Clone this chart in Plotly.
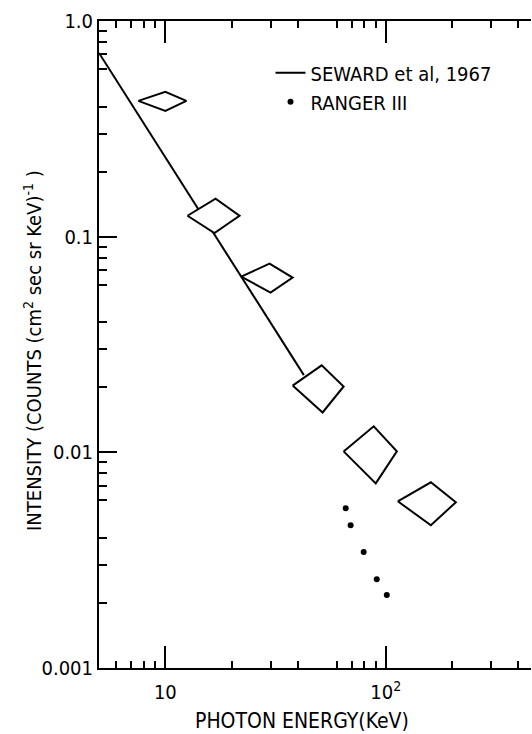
import plotly.graph_objects as go

# Power-law fit (Seward et al., 1967): photon energy (keV) vs intensity
seward_energy = [5.0, 42.5]
seward_intensity = [0.711, 0.0228]

# Ranger III measurements
ranger_energy = [65.8, 69.3, 79.4, 91.0, 101.1]
ranger_intensity = [0.00551, 0.00459, 0.00345, 0.00258, 0.00218]

# Error boxes: vertices ordered left, top, right, bottom
box_energy = [
    [7.54, 10.0, 12.46, 10.0],
    [12.6, 16.9, 21.7, 16.7],
    [22.1, 29.7, 37.8, 30.0],
    [37.8, 51.2, 64.4, 51.7],
    [64.4, 88.2, 112.3, 90.1],
    [113.4, 160.2, 208.0, 160.2],
]
box_intensity = [
    [0.426, 0.469, 0.426, 0.383],
    [0.125, 0.150, 0.125, 0.104],
    [0.0653, 0.0750, 0.0646, 0.0550],
    [0.0204, 0.0253, 0.0202, 0.0153],
    [0.0101, 0.0132, 0.0101, 0.00718],
    [0.00593, 0.00726, 0.00587, 0.00459],
]

x_tickvals = [10, 100]
x_ticktext = ["10", "10<sup>2</sup>"]
y_tickvals = [1.0, 0.1, 0.01, 0.001]
y_ticktext = ["1.0", "0.1", "0.01", "0.001"]

x_minor = [6, 7, 8, 9, 20, 30, 40, 60, 70, 80, 90, 200, 300, 400]
x_mid = [50]
y_minor = [0.9, 0.8, 0.7, 0.6, 0.4, 0.3, 0.2,
           0.09, 0.08, 0.07, 0.06, 0.04, 0.03, 0.02,
           0.009, 0.008, 0.007, 0.006, 0.004, 0.003, 0.002]
y_mid = [0.5, 0.05, 0.005]

FONT = "DejaVu Sans Condensed, Liberation Sans Narrow, DejaVu Sans, sans-serif"
XR = [0.69897, 2.659]
YR = [-3, 0]

fig = go.Figure()

fig.add_trace(go.Scatter(
    x=seward_energy, y=seward_intensity, mode="lines",
    line=dict(color="black", width=2), name="SEWARD et al, 1967",
))

for ex, iy in zip(box_energy, box_intensity):
    fig.add_trace(go.Scatter(
        x=ex + ex[:1], y=iy + iy[:1], mode="lines", fill="toself",
        fillcolor="white", line=dict(color="black", width=2),
        showlegend=False, hoverinfo="skip",
    ))

fig.add_trace(go.Scatter(
    x=ranger_energy, y=ranger_intensity, mode="markers",
    marker=dict(color="black", size=6), name="RANGER III",
))

fig.update_layout(
    width=532, height=734,
    margin=dict(l=99, r=1, t=21, b=66),
    paper_bgcolor="white", plot_bgcolor="white",
    font=dict(family=FONT, size=20, color="black"),
    showlegend=True,
    legend=dict(
        x=0.397, y=0.95, xanchor="left", yanchor="top",
        bgcolor="rgba(0,0,0,0)", font=dict(size=20), tracegroupgap=0,
    ),
    xaxis=dict(
        type="log", range=XR, showgrid=False, zeroline=False,
        showline=True, linecolor="black", linewidth=2, mirror="ticks",
        ticks="inside", ticklen=22, tickwidth=2, tickcolor="black",
        tickmode="array", tickvals=x_tickvals, ticktext=x_ticktext,
        ticklabelstandoff=5,
        minor=dict(ticks="inside", ticklen=7, tickwidth=1.5,
                   tickcolor="black", tickmode="array", tickvals=x_minor,
                   showgrid=False),
    ),
    yaxis=dict(
        type="log", range=YR, showgrid=False, zeroline=False,
        showline=True, linecolor="black", linewidth=2,
        ticks="inside", ticklen=18, tickwidth=2, tickcolor="black",
        tickmode="array", tickvals=y_tickvals, ticktext=y_ticktext,
        minor=dict(ticks="inside", ticklen=8, tickwidth=1.5,
                   tickcolor="black", tickmode="array", tickvals=y_minor,
                   showgrid=False),
    ),
    # medium-length ticks at the 5s
    xaxis2=dict(
        type="log", range=XR, overlaying="x", side="bottom",
        showgrid=False, zeroline=False, showline=False,
        ticks="inside", ticklen=14, tickwidth=1.5, tickcolor="black",
        tickmode="array", tickvals=x_mid, showticklabels=False,
    ),
    yaxis2=dict(
        type="log", range=YR, overlaying="y", side="left",
        showgrid=False, zeroline=False, showline=False,
        ticks="inside", ticklen=11, tickwidth=1.5, tickcolor="black",
        tickmode="array", tickvals=y_mid, showticklabels=False,
    ),
    # faint ticks along the right edge
    yaxis3=dict(
        type="log", range=YR, overlaying="y", side="right",
        showgrid=False, zeroline=False, showline=False,
        ticks="inside", ticklen=12, tickwidth=1.5, tickcolor="#bbbbbb",
        tickmode="array", tickvals=y_tickvals, showticklabels=False,
        minor=dict(ticks="inside", ticklen=4, tickwidth=1,
                   tickcolor="#cccccc", tickmode="array", tickvals=y_minor),
    ),
    annotations=[
        dict(text="PHOTON ENERGY(KeV)", xref="paper", yref="paper",
             x=0.47, y=0, yshift=-53, xanchor="center", yanchor="middle",
             showarrow=False, font=dict(size=21)),
        dict(text="INTENSITY (COUNTS (cm<sup>2</sup> sec sr KeV)<sup>-1</sup> )",
             xref="paper", yref="paper", x=0, y=0.49, xshift=-66,
             xanchor="center", yanchor="middle", textangle=-90,
             showarrow=False, font=dict(size=20)),
    ],
)

fig.write_html("out.html")
